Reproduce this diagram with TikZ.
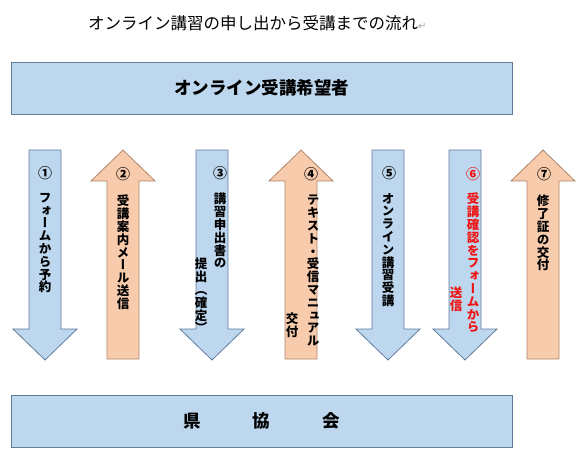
\documentclass[tikz,border=0pt]{standalone}
\usepackage{fontspec}
\newfontfamily\jp{Noto Sans CJK JP}
\newfontfamily\jpv[RawFeature=+vert]{Noto Sans CJK JP}
\newfontfamily\sym{DejaVu Sans}
\definecolor{boxblue}{RGB}{189,215,238}
\definecolor{blueline}{RGB}{96,124,156}
\definecolor{arrorange}{RGB}{248,203,173}
\definecolor{orangeline}{RGB}{172,134,108}
\definecolor{markred}{RGB}{240,20,20}

\begin{document}
\begin{tikzpicture}[x=1pt,y=-1pt,
  party box/.style={draw=blueline,fill=boxblue,line width=0.8pt,minimum width=501pt,minimum height=52pt,font=\jp\bfseries\fontsize{17.5}{18}\selectfont},
  tate/.style={font=\jpv\bfseries\fontsize{12.5}{12.8}\selectfont,align=center,inner sep=0pt,anchor=north},
  num/.style={font=\jp\bfseries\fontsize{14}{14}\selectfont,inner sep=0pt},
  down arr/.pic={\draw[draw=blueline,fill=boxblue,line width=0.8pt] (-16,150) -- (16,150) -- (16,329) -- (32,329) -- (0,360) -- (-32,329) -- (-16,329) -- cycle;},
  up arr/.pic={\draw[draw=orangeline,fill=arrorange,line width=0.8pt] (-16,359) -- (16,359) -- (16,181) -- (32,181) -- (0,150) -- (-32,181) -- (-16,181) -- cycle;}]
 		\useasboundingbox (0,0) rectangle (588,456);
 		
 		% title
 		\node[anchor=west,inner sep=0pt,font=\jp\fontsize{16.5}{17}\selectfont] (title) at (88,23) {オンライン講習の申し出から受講までの流れ{\sym\color{gray!70}\fontsize{10}{10}\selectfont ↵}};
 		
 		% the two parties
 		\node[party box] (user) at (261.5,88) {オンライン受講希望者};
 		\node[party box] (assoc) at (261.5,421) {県\hspace{52pt}協\hspace{52pt}会};
 		
 		% arrows
 		\pic at (45,0) {down arr};
 		\pic at (123,0) {up arr};
 		\pic at (212,0) {down arr};
 		\pic at (301,0) {up arr};
 		\pic at (388,0) {down arr};
 		\pic at (465,0) {down arr};
 		\pic at (543,0) {up arr};
 		
 		% step numbers
 		\node[num] (n1) at (45,173) {①};
 		\node[num] (n2) at (123,174) {②};
 		\node[num] (n3) at (220,173) {③};
 		\node[num] (n4) at (311,174) {④};
 		\node[num] (n5) at (389,173) {⑤};
 		\node[num,text=markred] (n6) at (473,174) {⑥};
 		\node[num] (n7) at (544,174) {⑦};
 		
 		% step texts
 		\node[tate] (t1) at (45,193) {フ\\ォ\\ー\\ム\\か\\ら\\予\\約};
 		\node[tate] (t2) at (123,195) {受\\講\\案\\内\\メ\\ー\\ル\\送\\信};
 		\node[tate] (t3) at (220,193) {講\\習\\申\\出\\書\\の};
 		\node[tate] (t3b) at (201,258) {提\\出\\（\\確\\定\\）};
 		\node[tate] (t4) at (313,195) {テ\\キ\\ス\\ト\\・\\受\\信\\マ\\ニ\\ュ\\ア\\ル};
 		\node[tate] (t4b) at (292,313) {交\\付};
 		\node[tate] (t5) at (388,193) {オ\\ン\\ラ\\イ\\ン\\講\\習\\受\\講};
 		\node[tate,text=markred] (t6) at (473,193) {受\\講\\確\\認\\を\\フ\\ォ\\ー\\ム\\か\\ら};
 		\node[tate,text=markred] (t6b) at (456,287) {送\\信};
 		\node[tate] (t7) at (543,195) {修\\了\\証\\の\\交\\付};
 		\end{tikzpicture}
\end{document}
